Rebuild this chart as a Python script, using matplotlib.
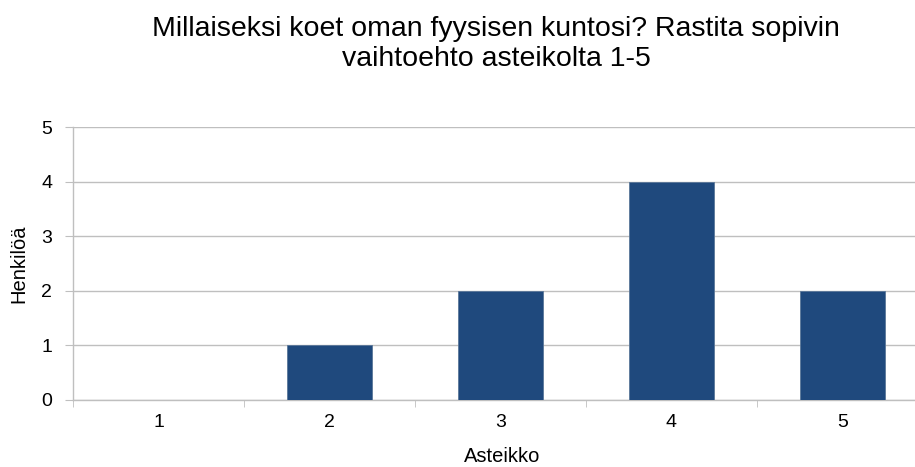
import matplotlib.pyplot as plt
import numpy as np

plt.rcParams['font.family'] = ['Liberation Sans', 'DejaVu Sans']

categories = ['1', '2', '3', '4', '5']
values = [0, 1, 2, 4, 2]

fig = plt.figure(figsize=(9.15, 4.67), dpi=100)
ax = fig.add_axes([73 / 915, 67 / 467, 855 / 915, 273 / 467])

x = np.arange(len(categories))
ax.bar(x, values, width=0.5, color='#1F497D', edgecolor='#5A7799', linewidth=0.6, zorder=3)

ax.set_xlim(-0.5, len(categories) - 0.5)
ax.set_ylim(0, 5)
ax.set_yticks(range(6))
ax.set_xticks(x)
ax.set_xticklabels(categories)
ax.set_xticks(np.arange(-0.5, len(categories), 1.0), minor=True)

ax.grid(axis='y', color='#BFBFBF', linewidth=1.0, zorder=0)
for side in ['top', 'right']:
    ax.spines[side].set_visible(False)
for side in ['left', 'bottom']:
    ax.spines[side].set_color('#BFBFBF')
    ax.spines[side].set_linewidth(1.0)

ax.tick_params(axis='x', which='major', length=0, labelsize=14, pad=10)
ax.tick_params(axis='x', which='minor', length=5, color='#BFBFBF')
ax.tick_params(axis='y', length=6, color='#BFBFBF', labelsize=14, pad=9)

# labels placed in figure coordinates
fig.text(502 / 915, 1 / 467, 'Asteikko', fontsize=14.5, ha='center', va='bottom')
fig.text(19 / 915, 1 - 264 / 467, 'Henkilöä', fontsize=14.5, rotation=90, ha='center', va='center')
fig.text(496 / 915, 1 - 44 / 467,
         'Millaiseksi koet oman fyysisen kuntosi? Rastita sopivin\nvaihtoehto asteikolta 1-5',
         fontsize=20.5, ha='center', va='center', linespacing=1.15)

fig.savefig('out.png', dpi=100)
